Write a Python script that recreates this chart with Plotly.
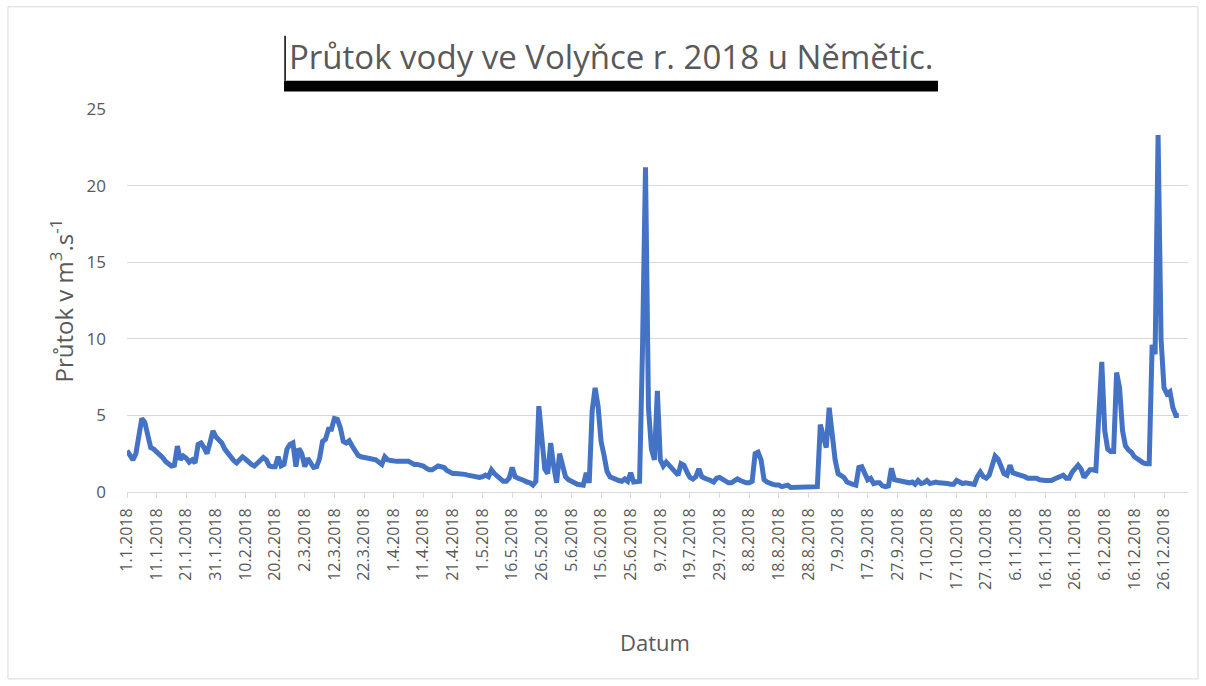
import plotly.graph_objects as go

# Daily discharge values (m3/s), category order as in the source sheet
flow = [
    2.7, 2.4, 2.1, 2.5, 3.6, 4.8, 4.55, 3.5, 2.9, 2.8,
    2.65, 2.5, 2.25, 2.0, 1.85, 1.7, 1.75, 3.0, 2.1, 2.35,
    2.2, 1.95, 2.1, 1.9, 3.1, 3.2, 2.9, 2.5, 3.2,
    4.0, 3.6, 3.35, 3.2, 2.8, 2.5, 2.2, 2.05, 1.9, 2.1,
    2.3, 2.15, 1.95, 1.8, 1.7, 1.9, 2.15, 2.25, 2.1, 1.7,
    1.65, 1.65, 2.3, 1.7, 1.8, 2.8, 3.1, 3.2, 1.65,
    2.85, 2.5, 1.65, 2.2, 1.85, 1.6, 1.65, 2.2, 3.3, 3.45,
    4.1, 4.1, 4.8, 4.75, 4.2, 3.3, 3.2, 3.35, 3.0, 2.7,
    2.4, 2.3, 2.25, 2.2, 2.15, 2.1, 2.1, 1.95, 1.8, 2.3,
    2.1, 2.05, 2.0, 2.0, 2.0, 2.0, 2.0, 2.0, 1.9, 1.8,
    1.8, 1.75, 1.7, 1.55, 1.45, 1.45, 1.6, 1.7, 1.65,
    1.6, 1.4, 1.25, 1.2, 1.2, 1.2, 1.2, 1.15, 1.1, 1.05,
    1.0, 0.95, 0.95, 1.0, 1.1, 1.0, 1.45, 1.2, 1.05, 0.8,
    0.7, 0.7, 0.9, 1.6, 1.0, 0.9, 0.85, 0.75, 0.65, 0.6,
    0.45, 0.7, 5.6, 3.3, 1.5, 1.2, 3.2, 1.7, 0.6,
    2.5, 1.7, 1.0, 0.8, 0.65, 0.6, 0.5, 0.5, 0.45, 1.25,
    0.6, 5.3, 6.8, 5.6, 3.3, 2.4, 1.35, 1.0, 0.9, 0.85,
    0.75, 0.7, 0.85, 0.7, 1.25, 0.65, 0.7, 0.7, 9.5, 21.2,
    5.5, 2.8, 2.1, 6.6, 2.1, 1.7, 1.95, 1.75, 1.5, 1.3,
    1.1, 1.85, 1.75, 1.3, 0.95, 0.85, 1.0, 1.5, 1.0,
    0.9, 0.85, 0.75, 0.65, 0.9, 0.95, 0.85, 0.7, 0.6, 0.6,
    0.7, 0.85, 0.75, 0.65, 0.6, 0.6, 0.7, 2.5, 2.6, 2.1,
    0.8, 0.65, 0.55, 0.5, 0.45, 0.45, 0.35, 0.4, 0.45,
    0.3, 0.3, 0.35, 0.35, 0.35, 0.35, 0.35, 0.35, 0.35, 0.35,
    4.4, 3.6, 2.9, 5.5, 3.4, 2.1, 1.2, 1.05, 0.95, 0.65,
    0.55, 0.5, 0.45, 1.6, 1.65, 1.2, 0.8, 0.9, 0.55, 0.6,
    0.6, 0.4, 0.35, 0.4, 1.55, 0.8, 0.75, 0.7, 0.65,
    0.6, 0.6, 0.65, 0.5, 0.75, 0.55, 0.6, 0.75, 0.55, 0.6,
    0.65, 0.6, 0.6, 0.55, 0.55, 0.5, 0.5, 0.75, 0.6, 0.55,
    0.6, 0.55, 0.55, 0.5, 1.0, 1.3, 1.0, 0.9, 1.1, 1.7,
    2.35, 2.15, 1.7, 1.2, 1.1, 1.75, 1.25, 1.2, 1.15, 1.05,
    1.0, 0.9, 0.9, 0.9, 0.9, 0.8, 0.75, 0.75, 0.75,
    0.75, 0.85, 0.95, 1.0, 1.1, 0.9, 0.9, 1.3, 1.5, 1.75,
    1.5, 0.95, 1.2, 1.45, 1.45, 1.4, 5.0, 8.5, 4.0, 2.8,
    2.65, 2.65, 7.8, 6.8, 4.0, 3.0, 2.75, 2.6, 2.3,
    2.15, 2.0, 1.9, 1.85, 1.85, 9.6, 9.0, 23.3, 10.0, 6.8,
    6.4, 6.55, 5.5, 5.0, 5.0,
]
categories = list(range(len(flow)))

tick_positions = list(range(0, 351, 10))
tick_labels = [
    "1.1.2018", "11.1.2018", "21.1.2018", "31.1.2018", "10.2.2018", "20.2.2018",
    "2.3.2018", "12.3.2018", "22.3.2018", "1.4.2018", "11.4.2018", "21.4.2018",
    "1.5.2018", "16.5.2018", "26.5.2018", "5.6.2018", "15.6.2018", "25.6.2018",
    "9.7.2018", "19.7.2018", "29.7.2018", "8.8.2018", "18.8.2018", "28.8.2018",
    "7.9.2018", "17.9.2018", "27.9.2018", "7.10.2018", "17.10.2018", "27.10.2018",
    "6.11.2018", "16.11.2018", "26.11.2018", "6.12.2018", "16.12.2018", "26.12.2018",
]

title_text = "Průtok vody ve Volyňce r. 2018 u Němětic."
y_title = "Průtok v m<sup>3</sup>.s<sup>-1</sup>"
x_title = "Datum"

FONT = "Open Sans"
GREY = "#595959"
GRID = "#D9D9D9"

fig = go.Figure(
    go.Scatter(
        x=categories, y=flow, mode="lines",
        line=dict(color="#4472C4", width=5),
        hoverinfo="y",
    )
)

fig.update_layout(
    width=1206, height=686,
    margin=dict(l=127, r=18, t=108.5, b=193.5),
    paper_bgcolor="white", plot_bgcolor="white",
    showlegend=False,
    font=dict(family=FONT, color=GREY),
    xaxis=dict(
        range=[0, 358.1], showgrid=False, zeroline=False,
        showline=True, linecolor=GRID, linewidth=1,
        ticks="outside", ticklen=5, tickcolor=GRID,
        tickmode="array", tickvals=tick_positions, ticktext=tick_labels,
        tickangle=-90, tickfont=dict(size=16, color=GREY, family=FONT),
        ticklabelstandoff=4,
    ),
    yaxis=dict(
        range=[0, 25], dtick=5, showgrid=True, gridcolor=GRID, gridwidth=1,
        zeroline=False, showline=False, ticks="",
        tickfont=dict(size=17, color=GREY, family=FONT),
        ticklabelstandoff=20,
    ),
    annotations=[
        dict(text=title_text, xref="paper", yref="paper", x=0.456, y=1.136,
             xanchor="center", yanchor="middle", showarrow=False,
             font=dict(size=33, color=GREY, family=FONT)),
        dict(text=y_title, xref="paper", yref="paper", x=-0.0613, y=0.5,
             xanchor="center", yanchor="middle", showarrow=False, textangle=-90,
             font=dict(size=24, color=GREY, family=FONT)),
        dict(text=x_title, xref="paper", yref="paper", x=0.4977, y=-0.392,
             xanchor="center", yanchor="middle", showarrow=False,
             font=dict(size=22, color=GREY, family=FONT)),
    ],
    shapes=[
        # outer chart frame
        dict(type="rect", xref="paper", yref="paper",
             x0=-0.1122, x1=1.0094, y0=-0.488, y1=1.267,
             line=dict(color=GRID, width=1), fillcolor="rgba(0,0,0,0)", layer="below"),
        # title box: black bar under the title and left edge line
        dict(type="rect", xref="paper", yref="paper",
             x0=0.148, x1=0.7644, y0=1.046, y1=1.074,
             line=dict(width=0), fillcolor="black"),
        dict(type="line", xref="paper", yref="paper",
             x0=0.149, x1=0.149, y0=1.074, y1=1.191,
             line=dict(color="black", width=1.5)),
    ],
)

fig.write_html("out.html", config={"displayModeBar": False},
               post_script="document.body.style.margin='0';")
